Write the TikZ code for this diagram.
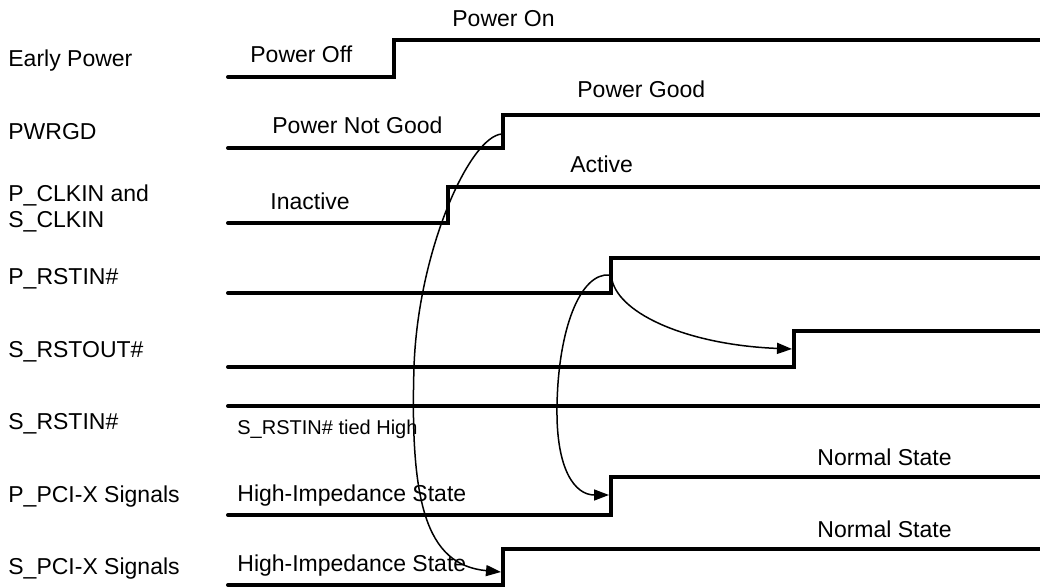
\documentclass[tikz,border=0pt]{standalone}
\usepackage{fontspec}
\setmainfont{Liberation Sans}
\usetikzlibrary{arrows.meta, positioning, calc}

\tikzset{
    wave/.style={line width=2pt, line cap=round},
    cause/.style={line width=0.75pt, -{Triangle[length=7.5pt, width=5.5pt]}},
    signame/.style={anchor=base west, inner sep=0pt, font=\fontsize{11.5}{13.5}\selectfont},
    sigstate/.style={anchor=base west, inner sep=0pt, font=\fontsize{11.5}{13.5}\selectfont},
    signote/.style={anchor=base west, inner sep=0pt, font=\fontsize{10}{12}\selectfont}
}

\begin{document}
\begin{tikzpicture}[x=0.5pt, y=-0.5pt]
    \useasboundingbox (0, 0) rectangle (1040, 587);

    % signal names
    \node[signame] (early) at (8, 67) {Early Power};
    \node[signame] (pwrgd) at (8, 140) {PWRGD};
    \node[signame] (clkA) at (8, 202) {P\_CLKIN and};
    \node[signame] (clkB) at (8, 228) {S\_CLKIN};
    \node[signame] (prstin) at (8, 285) {P\_RSTIN\#};
    \node[signame] (srstout) at (8, 358) {S\_RSTOUT\#};
    \node[signame] (srstin) at (8, 430) {S\_RSTIN\#};
    \node[signame] (ppci) at (8, 503) {P\_PCI-X Signals};
    \node[signame] (spci) at (8, 575) {S\_PCI-X Signals};

    % waveforms
    \draw[wave] (228, 77) -- (394, 77) -- (394, 40) -- (1040, 40);
    \draw[wave] (228, 148) -- (503, 148) -- (503, 115) -- (1040, 115);
    \draw[wave] (228, 223) -- (448, 223) -- (448, 187) -- (1040, 187);
    \draw[wave] (228, 293) -- (611, 293) -- (611, 258) -- (1040, 258);
    \draw[wave] (228, 367) -- (794, 367) -- (794, 331) -- (1040, 331);
    \draw[wave] (228, 406) -- (1040, 406);
    \draw[wave] (228, 515) -- (611, 515) -- (611, 477) -- (1040, 477);
    \draw[wave] (228, 585) -- (503, 585) -- (503, 549) -- (1040, 549);

    % states
    \node[sigstate] (off) at (250, 63) {Power Off};
    \node[sigstate] (on) at (452, 27) {Power On};
    \node[sigstate] (notgood) at (272, 134) {Power Not Good};
    \node[sigstate] (good) at (577, 98) {Power Good};
    \node[sigstate] (inactive) at (270, 210) {Inactive};
    \node[sigstate] (active) at (570, 173) {Active};
    \node[signote] (tied) at (237, 435) {S\_RSTIN\# tied High};
    \node[sigstate] (hizP) at (237, 502) {High-Impedance State};
    \node[sigstate] (hizS) at (237, 572) {High-Impedance State};
    \node[sigstate] (normP) at (817, 466) {Normal State};
    \node[sigstate] (normS) at (817, 538) {Normal State};

    % edges
    \coordinate (pg) at (502, 134);
    \coordinate (sp) at (501, 572);
    \coordinate (pr) at (610, 275);
    \coordinate (pr2) at (612, 280);
    \coordinate (pp) at (609, 495);
    \coordinate (so) at (792, 349);

    \draw[cause] (pg) .. controls (470, 136) and (418, 250) .. (414, 367)
        .. controls (410, 500) and (425, 565) .. (sp);
    \draw[cause] (pr) .. controls (580, 272) and (558, 330) .. (557, 407)
        .. controls (556, 470) and (575, 495) .. (pp);
    \draw[cause] (pr2) .. controls (620, 315) and (690, 345) .. (so);
\end{tikzpicture}
\end{document}
